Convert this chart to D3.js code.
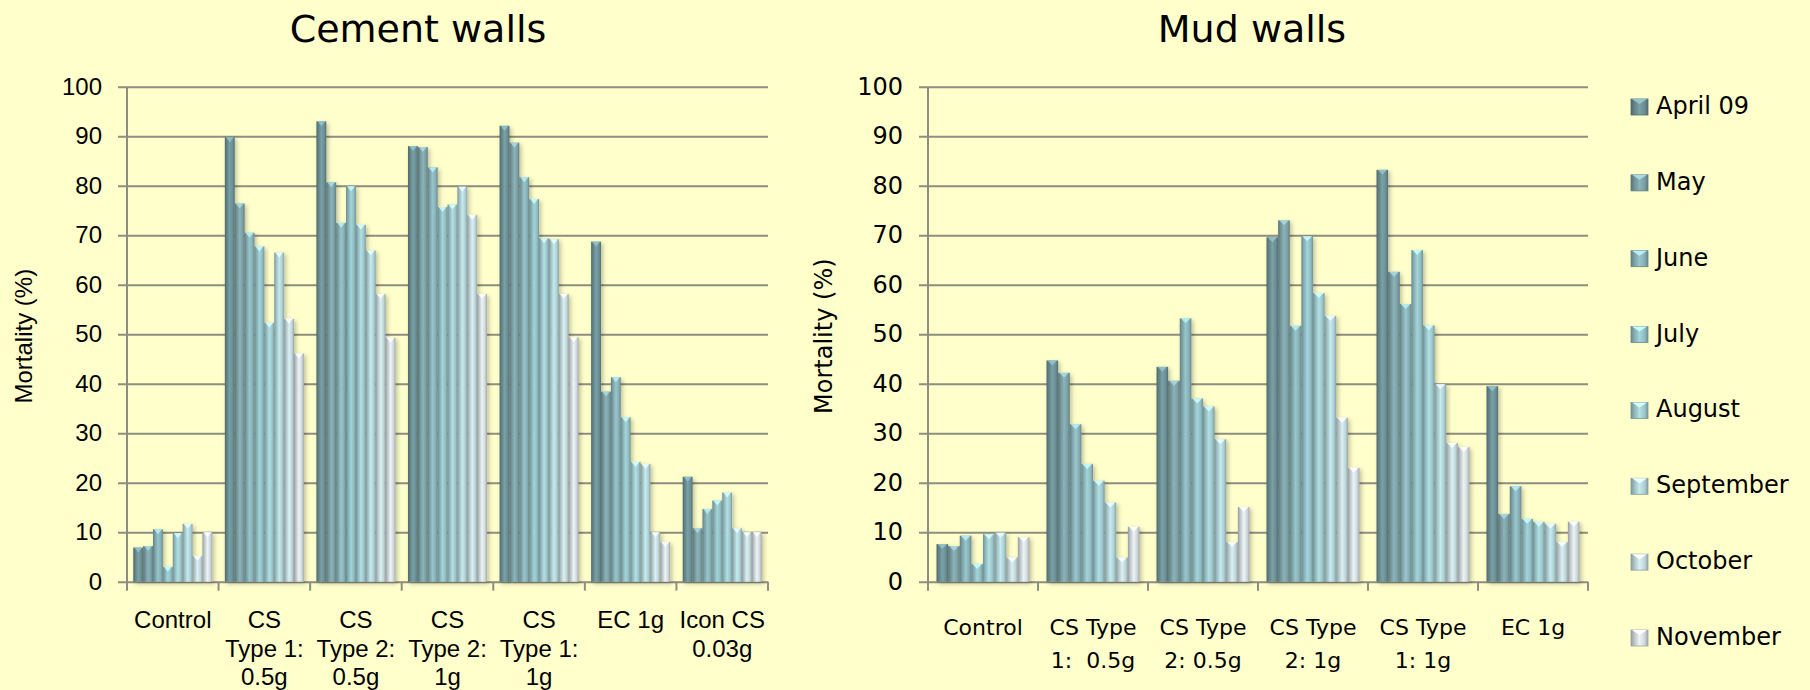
<!DOCTYPE html>
<html>
<head>
<meta charset="utf-8">
<script src="https://cdn.jsdelivr.net/npm/d3@7"></script>
<style>
  body { margin: 0; background: #ffffcc; }
  svg { display: block; }
</style>
</head>
<body>
<svg id="chart" width="1810" height="690"></svg>
<script>
// months (series)
const months = ['April 09', 'May', 'June', 'July', 'August', 'September', 'October', 'November'];
const monthColors = ['#6b8e93', '#7b9fa4', '#86afb4', '#90bcc1', '#9cc6ca', '#aecfd3', '#c0d5d8', '#cfd7da'];

// cement walls
const cementCategories = ['Control', 'CS Type 1: 0.5g', 'CS Type 2: 0.5g', 'CS Type 2: 1g', 'CS Type 1: 1g', 'EC 1g', 'Icon CS 0.03g'];
const cementLabels = [['Control'], ['CS', 'Type 1:', '0.5g'], ['CS', 'Type 2:', '0.5g'], ['CS', 'Type 2:', '1g'], ['CS', 'Type 1:', '1g'], ['EC 1g'], ['Icon CS', '0.03g']];
const cementValues = [
    [6.9, 7.2, 10.6, 3.0, 9.8, 11.7, 5.2, 10.0],
    [89.8, 76.4, 70.5, 67.7, 52.3, 66.5, 53.1, 46.1],
    [93.0, 80.7, 72.5, 79.9, 72.1, 66.9, 58.1, 49.3],
    [88.0, 87.8, 83.7, 75.7, 76.2, 79.8, 74.1, 58.1],
    [92.1, 88.7, 81.7, 77.3, 69.4, 69.2, 58.1, 49.4],
    [68.7, 38.4, 41.3, 33.2, 24.2, 23.8, 10.0, 8.0],
    [21.2, 10.8, 14.7, 16.4, 18.0, 10.8, 10.0, 10.0]
];

// mud walls
const mudCategories = ['Control', 'CS Type 1: 0.5g', 'CS Type 2: 0.5g', 'CS Type 2: 1g', 'CS Type 1: 1g', 'EC 1g'];
const mudLabels = [['Control'], ['CS Type', '1:  0.5g'], ['CS Type', '2: 0.5g'], ['CS Type', '2: 1g'], ['CS Type', '1: 1g'], ['EC 1g']];
const mudValues = [
    [7.6, 7.2, 9.3, 3.6, 9.6, 9.9, 4.9, 9.0],
    [44.7, 42.2, 31.8, 23.8, 20.4, 16.0, 4.9, 11.1],
    [43.4, 40.6, 53.2, 37.0, 35.4, 28.8, 8.0, 15.1],
    [69.6, 73.0, 51.7, 69.8, 58.3, 53.7, 33.1, 23.0],
    [83.2, 62.6, 56.1, 67.0, 51.8, 39.9, 28.0, 27.2],
    [39.5, 13.7, 19.3, 12.7, 12.1, 11.7, 8.0, 12.1]
];

const yTicks = [0, 10, 20, 30, 40, 50, 60, 70, 80, 90, 100];

const svg = d3.select('#chart');
svg.append('rect').attr('width', 1810).attr('height', 690).attr('fill', '#ffffcc');

const defs = svg.append('defs');
monthColors.forEach((c, i) => {
    const g = defs.append('linearGradient').attr('id', 'grad' + i)
        .attr('x1', '0%').attr('x2', '100%').attr('y1', '0%').attr('y2', '0%');
    const base = d3.color(c);
    g.append('stop').attr('offset', '0%').attr('stop-color', base.darker(0.9));
    g.append('stop').attr('offset', '18%').attr('stop-color', base.darker(0.3));
    g.append('stop').attr('offset', '50%').attr('stop-color', base.brighter(0.35));
    g.append('stop').attr('offset', '80%').attr('stop-color', base);
    g.append('stop').attr('offset', '100%').attr('stop-color', base.darker(0.7));
});
const shadow = defs.append('filter').attr('id', 'shadow').attr('x', '-20%').attr('y', '-5%').attr('width', '140%').attr('height', '110%');
shadow.append('feDropShadow').attr('dx', 2).attr('dy', 2).attr('stdDeviation', 2)
    .attr('flood-color', '#000').attr('flood-opacity', 0.25);

const gridColor = '#8e8e80';

const drawPanel = (opts) => {
    const { left, right, top, bottom, categories, labels, values, font, tickFont, padding, title, titleX, labelX, labelLine, labelY } = opts;

    const y = d3.scaleLinear().domain([0, 100]).range([bottom, top]);
    const x0 = d3.scaleBand().domain(categories).range([left, right])
        .paddingInner(padding).paddingOuter(padding / 2);
    const x1 = d3.scaleBand().domain(months).range([0, x0.bandwidth()]);

    const panel = svg.append('g');

    // title
    panel.append('text')
        .attr('x', titleX).attr('y', 42)
        .attr('text-anchor', 'middle')
        .style('font-family', '"DejaVu Sans", sans-serif')
        .style('font-size', '38px')
        .attr('fill', '#000')
        .text(title);

    // gridlines + y tick labels
    const yAxis = d3.axisLeft(y).tickValues(yTicks).tickSize(-(right - left + 9)).tickPadding(16).tickSizeOuter(0);
    const ga = panel.append('g')
        .attr('transform', `translate(${left - 9},0)`)
        .call(yAxis);
    ga.select('.domain').remove();
    ga.selectAll('.tick line').attr('stroke', gridColor).attr('stroke-width', 2);
    ga.selectAll('.tick text')
        .style('font-family', tickFont)
        .style('font-size', '24px')
        .attr('fill', '#000');

    // vertical axis line
    panel.append('line')
        .attr('x1', left).attr('x2', left)
        .attr('y1', y(100)).attr('y2', y(0) + 9)
        .attr('stroke', gridColor).attr('stroke-width', 2);

    // category boundary ticks
    const bounds = d3.range(categories.length + 1).map(i => left + i * x0.step());
    panel.selectAll('.ctick').data(bounds.slice(1)).enter()
        .append('line')
        .attr('x1', d => d).attr('x2', d => d)
        .attr('y1', y(0)).attr('y2', y(0) + 9)
        .attr('stroke', gridColor).attr('stroke-width', 2);

    // bars
    const bars = panel.append('g').attr('filter', 'url(#shadow)');
    categories.forEach((cat, ci) => {
        const grp = bars.append('g').attr('transform', `translate(${x0(cat)},0)`);
        grp.selectAll('rect').data(values[ci]).enter()
            .append('rect')
            .attr('x', (d, i) => x1(months[i]))
            .attr('y', d => y(d))
            .attr('width', x1.bandwidth())
            .attr('height', d => y(0) - y(d))
            .attr('fill', (d, i) => `url(#grad${i})`);
        // bevelled cap
        grp.selectAll('polygon').data(values[ci]).enter()
            .append('polygon')
            .attr('points', (d, i) => {
                const bx = x1(months[i]), bw = x1.bandwidth(), by = y(d);
                return `${bx + 1},${by} ${bx + bw - 1},${by} ${bx + bw / 2},${by + 5}`;
            })
            .attr('fill', (d, i) => d3.color(monthColors[i]).brighter(0.9))
            .attr('opacity', 0.85);
    });

    // x labels
    categories.forEach((cat, ci) => {
        const t = panel.append('text')
            .attr('x', x0(cat) + x0.bandwidth() / 2)
            .attr('y', labelY)
            .attr('text-anchor', 'middle')
            .style('font-family', font)
            .style('font-size', opts.labelSize)
            .style('white-space', 'pre')
            .attr('fill', '#000');
        labels[ci].forEach((line, li) => {
            t.append('tspan')
                .attr('x', x0(cat) + x0.bandwidth() / 2)
                .attr('dy', li === 0 ? 0 : labelLine)
                .text(line);
        });
    });

    // y label
    panel.append('text')
        .attr('transform', `translate(${labelX},${(y(0) + y(100)) / 2 + 2}) rotate(-90)`)
        .attr('text-anchor', 'middle')
        .style('font-family', font)
        .style('font-size', '24px')
        .attr('fill', '#000')
        .text('Mortality (%)');
};

drawPanel({
    left: 127, right: 768, top: 86.7, bottom: 581.7,
    categories: cementCategories, labels: cementLabels, values: cementValues,
    font: '"Liberation Sans", Arial, sans-serif',
    tickFont: '"Liberation Sans", Arial, sans-serif',
    padding: 0.137, title: 'Cement walls', titleX: 418,
    labelX: 32, labelY: 628, labelLine: 28.5, labelSize: '24px'
});

drawPanel({
    left: 928, right: 1588, top: 86.7, bottom: 581.7,
    categories: mudCategories, labels: mudLabels, values: mudValues,
    font: '"DejaVu Sans", sans-serif',
    tickFont: '"DejaVu Sans", sans-serif',
    padding: 0.155, title: 'Mud walls', titleX: 1252,
    labelX: 832, labelY: 635, labelLine: 33, labelSize: '22px'
});

// legend
const legend = svg.append('g').attr('transform', 'translate(1631,0)');
const legendY = d3.scalePoint().domain(months).range([107, 638]);
months.forEach((m, i) => {
    const gy = legendY(m);
    legend.append('rect')
        .attr('x', 0).attr('y', gy - 8)
        .attr('width', 17).attr('height', 16)
        .attr('fill', `url(#grad${i})`)
        .attr('stroke', d3.color(monthColors[i]).darker(0.8)).attr('stroke-width', 0.8);
    legend.append('polygon')
        .attr('points', `1,${gy - 8} 16,${gy - 8} 8.5,${gy - 3}`)
        .attr('fill', d3.color(monthColors[i]).brighter(0.9));
    legend.append('text')
        .attr('x', 25).attr('y', gy)
        .attr('dominant-baseline', 'middle')
        .style('font-family', '"DejaVu Sans", sans-serif')
        .style('font-size', '24px')
        .attr('fill', '#000')
        .text(m);
});
</script>
</body>
</html>
